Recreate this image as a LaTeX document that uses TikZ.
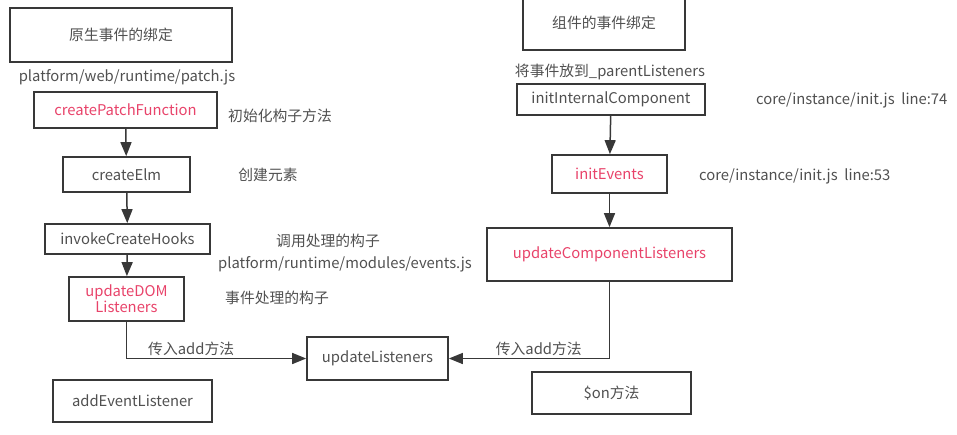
\documentclass[tikz,border=0pt]{standalone}
\usepackage{fontspec}
\setmainfont{Noto Sans CJK SC}
\usepackage{xcolor}
\usetikzlibrary{arrows.meta,positioning,calc}
\definecolor{fnred}{HTML}{E8436A}
\definecolor{txtgray}{HTML}{505050}
\tikzset{
  fx/.style={x=1pt, y=-1pt, font=\fontsize{14.8}{17}\selectfont, text=txtgray},
  v box/.style={draw=black!78, line width=1.7pt, align=center, inner sep=1pt},
  v fn/.style={v box, text=fnred},
  v note/.style={text=txtgray, align=center, inner sep=1pt},
  v arr/.style={-{Triangle[length=14pt, width=11pt]}, line width=1.5pt, black!78},
}
\begin{document}
\begin{tikzpicture}[fx]
\useasboundingbox (0,0) rectangle (957,434);
% left: native DOM events
\node[v box, minimum width=222pt, minimum height=54pt] (nat) at (121,35) {原生事件的绑定};
\node[v note] (npatch) at (127,77) {platform/web/runtime/patch.js};
\node[v fn, minimum width=183pt, minimum height=36pt] (cpf) at (125.5,110) {createPatchFunction};
\node[v note] (ncpf) at (280,116) {初始化构子方法};
\node[v box, minimum width=127pt, minimum height=35pt] (cel) at (126.5,174.5) {createElm};
\node[v note] (ncel) at (268,175) {创建元素};
\node[v box, minimum width=165pt, minimum height=30pt] (ich) at (127.5,239) {invokeCreateHooks};
\node[v note] (nich) at (328,241) {调用处理的构子};
\node[v note] (nevt) at (345,264) {platform/runtime/modules/events.js};
\node[v fn, minimum width=115pt, minimum height=44pt, font=\fontsize{14.8}{16}\selectfont] (udl) at (126.5,299) {updateDOM\\Listeners};
\node[v note] (nudl) at (277,298) {事件处理的构子};
\node[v box, minimum width=159pt, minimum height=42pt] (ael) at (132.5,401) {addEventListener};
% shared
\node[v box, minimum width=141pt, minimum height=43pt] (ul) at (377.5,358.5) {updateListeners};
% right: component events
\node[v box, minimum width=162pt, minimum height=55pt] (cmp) at (604,22.5) {组件的事件绑定};
\node[v note] (nparent) at (610,72) {将事件放到\_parentListeners};
\node[v box, minimum width=188pt, minimum height=31pt] (iic) at (611,99.5) {initInternalComponent};
\node[v note, anchor=west] (niic) at (755,100) {core/instance/init.js\ \ line:74};
\node[v fn, minimum width=115pt, minimum height=38pt] (iev) at (609.5,174) {initEvents};
\node[v note, anchor=west] (niev) at (698,176) {core/instance/init.js\ \ line:53};
\node[v fn, minimum width=245pt, minimum height=53pt] (ucl) at (609.5,254.5) {updateComponentListeners};
\node[v box, minimum width=159pt, minimum height=42pt] (on) at (611.5,393) {\$on方法};
% connectors
\draw[v arr] (cpf) -- (cel);
\draw[v arr] (cel) -- (ich);
\draw[v arr] (ich) -- (udl);
\draw[v arr] (udl.south) |- node[v note, pos=0.68, above=1pt] {传入add方法} (ul.west);
\draw[v arr] (iic) -- (iev);
\draw[v arr] (iev) -- (ucl);
\draw[v arr] (ucl.south) |- node[v note, pos=0.72, above=1pt] {传入add方法} (ul.east);
\end{tikzpicture}
\end{document}
